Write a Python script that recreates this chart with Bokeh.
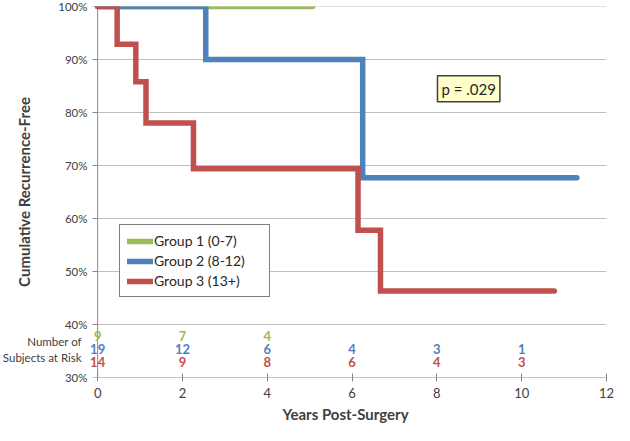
from bokeh.plotting import figure
from bokeh.models import FixedTicker, Label, Legend, LegendItem
from bokeh.core.properties import value
from bokeh.embed import file_html
from bokeh.resources import INLINE

# ---- data ----
g1_t = [0, 5.07]
g1_s = [100, 100]
g2_t = [0, 2.55, 6.25, 11.3]
g2_s = [100, 90, 67.7, 67.7]
g3_t = [0, 0.46, 0.90, 1.14, 2.26, 6.14, 6.67, 10.77]
g3_s = [100, 92.9, 85.8, 78.0, 69.4, 57.8, 46.3, 46.3]

risk_x = [0, 2, 4, 6, 8, 10]
risk_g1 = [9, 7, 4]
risk_g2 = [19, 12, 6, 4, 3, 1]
risk_g3 = [14, 9, 8, 6, 4, 3]
risk_title = ["Number of", "Subjects at Risk"]

names = ["Group 1 (0-7)", "Group 2 (8-12)", "Group 3 (13+)"]
colors = ["#9BBB59", "#4F81BD", "#C0504D"]
x_ticks = [0, 2, 4, 6, 8, 10, 12]
y_ticks = [30, 40, 50, 60, 70, 80, 90, 100]
p_text = "p = .029"

FONT = "Lato"
AXIS_GRAY = "#868686"
X0, X1, Y0, Y1 = 0, 12, 30, 100
risk_row_y = [37.8, 35.3, 32.9]
PAD = "\u00a0\u00a0"

p = figure(width=614, height=425, x_range=(-0.31, X1), y_range=(Y0, Y1),
           output_backend="svg", toolbar_location=None,
           min_border_left=84, min_border_right=8, min_border_top=6, min_border_bottom=47)
p.outline_line_color = None
p.background_fill_color = "white"
p.xgrid.visible = False
p.ygrid.visible = False

# gridlines / axis lines drawn from x=0 (the axis position)
grid_y = [t for t in y_ticks if t > Y0]
p.segment(x0=[X0] * len(grid_y), x1=[X1] * len(grid_y), y0=grid_y, y1=grid_y,
          line_color="#BFBFBF", line_width=1)
p.segment(x0=[X0], x1=[X0], y0=[Y0], y1=[Y1], line_color=AXIS_GRAY, line_width=1)
p.segment(x0=[X0], x1=[X1], y0=[Y0], y1=[Y0], line_color=AXIS_GRAY, line_width=1)
p.segment(x0=[X0 - 0.12] * len(y_ticks), x1=[X0] * len(y_ticks), y0=y_ticks, y1=y_ticks,
          line_color=AXIS_GRAY, line_width=1)

# x axis
xa = p.xaxis[0]
xa.ticker = FixedTicker(ticks=x_ticks)
xa.axis_line_color = None
xa.major_tick_line_color = AXIS_GRAY
xa.major_tick_in = 4
xa.major_tick_out = 4
xa.minor_tick_line_color = None
xa.major_label_text_font = FONT
xa.major_label_text_font_size = "13px"
xa.major_label_text_color = "#404040"
xa.major_label_standoff = 6
xa.axis_label = "Years Post-Surgery"
xa.axis_label_text_font = FONT
xa.axis_label_text_font_style = "bold"
xa.axis_label_text_font_size = "15px"
xa.axis_label_text_color = "#404040"
xa.axis_label_standoff = 4

# y axis (labels only; also carries the risk-table row title)
ya = p.yaxis[0]
ya.ticker = FixedTicker(ticks=y_ticks + [risk_row_y[1]])
ya.major_label_overrides = {**{t: f"{t}%" for t in y_ticks},
                            risk_row_y[1]: "\n".join(s + PAD for s in risk_title)}
ya.axis_line_color = None
ya.major_tick_line_color = None
ya.minor_tick_line_color = None
ya.major_tick_in = 0
ya.major_tick_out = 0
ya.major_label_text_font = FONT
ya.major_label_text_font_size = "11.5px"
ya.major_label_text_color = "#404040"
ya.major_label_standoff = -3
ya.axis_label = "Cumulative Recurrence-Free"
ya.axis_label_text_font = FONT
ya.axis_label_text_font_style = "bold"
ya.axis_label_text_font_size = "15px"
ya.axis_label_text_color = "#404040"
ya.axis_label_standoff = -33

renderers = []
for t, s, c in [(g1_t, g1_s, colors[0]), (g2_t, g2_s, colors[1]), (g3_t, g3_s, colors[2])]:
    r = p.step(t, s, mode="after", line_color=c, line_width=5.5,
               line_join="miter", line_cap="round")
    renderers.append(r)

legend = Legend(items=[LegendItem(label=n, renderers=[r]) for n, r in zip(names, renderers)],
                location=(35, 80), border_line_color="black", border_line_width=1.2,
                background_fill_color="white", background_fill_alpha=1,
                label_text_font=FONT, label_text_font_size="14px", label_text_color="#262626",
                glyph_width=26, glyph_height=16, label_height=16, label_width=108,
                spacing=3, padding=7, margin=0, label_standoff=1)
p.add_layout(legend)

# risk table
for counts, c, yy in zip([risk_g1, risk_g2, risk_g3], colors, risk_row_y):
    p.text(x=risk_x[:len(counts)], y=[yy] * len(counts), text=[str(v) for v in counts],
           text_color=c, text_font=value(FONT), text_font_style="bold",
           text_font_size="13px", text_align="center", text_baseline="middle")

p.add_layout(Label(x=8.75, y=84.5, text=p_text, text_font=FONT, text_font_size="15px",
                   text_color="#262626", text_align="center", text_baseline="middle",
                   background_fill_color="#FFFFCC", border_line_color="#404040",
                   border_line_width=1.5, padding=4))

open("out.html", "w").write(file_html(p, INLINE))
